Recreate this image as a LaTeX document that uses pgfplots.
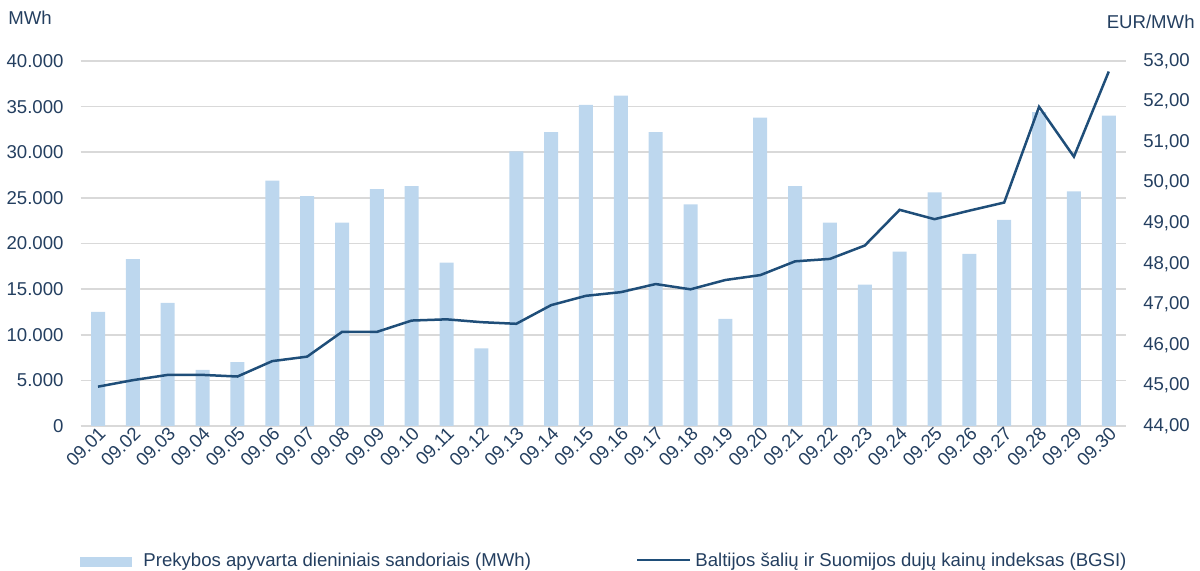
\documentclass[border=0pt]{standalone}
\usepackage{pgfplots}
\pgfplotsset{compat=1.18}
\usepackage{fontspec}
\setmainfont{Liberation Sans}
\definecolor{barblue}{HTML}{BDD7EE}
\definecolor{lineblue}{HTML}{1F4E79}
\definecolor{txt}{HTML}{243F60}
\definecolor{gridc}{HTML}{D9D9D9}
\begin{document}
\begin{tikzpicture}[every node/.style={font=\fontsize{9.3}{11}\selectfont, text=txt}]
\useasboundingbox (0,0) rectangle (600pt,285.5pt);
\begin{axis}[
  at={(40.3pt,72.5pt)}, anchor=south west,
  scale only axis, width=522.8pt, height=182.5pt,
  xmin=-0.5, xmax=29.5, ymin=0, ymax=40000,
  ytick={0,5000,...,40000},
  xtick={0,...,29},
  xticklabels={09.01,09.02,09.03,09.04,09.05,09.06,09.07,09.08,09.09,09.10,09.11,09.12,09.13,09.14,09.15,09.16,09.17,09.18,09.19,09.20,09.21,09.22,09.23,09.24,09.25,09.26,09.27,09.28,09.29,09.30},
  x tick label style={rotate=45, anchor=east, xshift=3.5pt, yshift=-3pt, font=\fontsize{9.3}{11}\selectfont, text=txt},
  y tick label style={font=\fontsize{9.3}{11}\selectfont, text=txt, xshift=-5pt},
  /pgf/number format/.cd, 1000 sep={.}, assume math mode=true, /pgfplots/.cd,
  scaled y ticks=false,
  ymajorgrids, grid style={color=gridc, line width=0.8pt},
  axis line style={draw=none},
  major tick length=0pt,
  ybar, bar width=7pt, bar shift=0pt,
]
\addplot[fill=barblue, draw=none] coordinates {
(0,12500) (1,18300) (2,13500) (3,6150) (4,7000) (5,26900) (6,25200) (7,22300) (8,25950) (9,26300)
(10,17900) (11,8500) (12,30100) (13,32200) (14,35200) (15,36200) (16,32200) (17,24300) (18,11750) (19,33800)
(20,26300) (21,22300) (22,15500) (23,19100) (24,25600) (25,18850) (26,22600) (27,34400) (28,25700) (29,34000)};
\end{axis}
\begin{axis}[
  at={(40.3pt,72.5pt)}, anchor=south west,
  scale only axis, width=522.8pt, height=182.5pt,
  xmin=-0.5, xmax=29.5, ymin=44, ymax=53,
  ytick={44,45,...,53},
  axis x line=none, axis y line*=right,
  axis line style={draw=none},
  major tick length=0pt,
  y tick label style={font=\fontsize{9.3}{11}\selectfont, text=txt, xshift=5pt,
    /pgf/number format/.cd, fixed, fixed zerofill, precision=2, use comma, assume math mode=true},
]
\addplot[lineblue, line width=1.25pt, mark=none] coordinates {
(0,44.97) (1,45.13) (2,45.26) (3,45.26) (4,45.22) (5,45.60) (6,45.71) (7,46.32) (8,46.32) (9,46.60)
(10,46.63) (11,46.56) (12,46.52) (13,46.98) (14,47.21) (15,47.30) (16,47.50) (17,47.37) (18,47.60) (19,47.72)
(20,48.06) (21,48.12) (22,48.45) (23,49.33) (24,49.10) (25,49.31) (26,49.51) (27,51.87) (28,50.64) (29,52.74)};
\end{axis}
\node[anchor=base west, inner sep=0] at (4pt,273pt) {MWh};
\node[anchor=base east, inner sep=0] at (597.5pt,271pt) {EUR/MWh};
\fill[barblue] (40pt,2.2pt) rectangle (66pt,7.2pt);
\node[anchor=base west, inner sep=0] at (71.5pt,2.3pt) {Prekybos apyvarta dieniniais sandoriais (MWh)};
\draw[lineblue, line width=1.25pt] (318.5pt,5.6pt) -- (345pt,5.6pt);
\node[anchor=base west, inner sep=0] at (347.5pt,2.3pt) {Baltijos šalių ir Suomijos dujų kainų indeksas (BGSI)};
\end{tikzpicture}
\end{document}
